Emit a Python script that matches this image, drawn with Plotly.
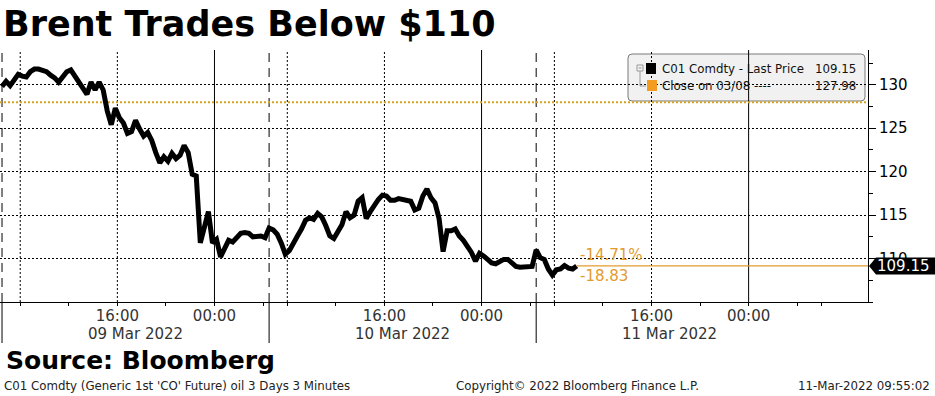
import pandas as pd
import plotly.graph_objects as go

# ---------------- data ----------------
BAR_FREQ = "20min"
session_starts = ["2022-03-09 06:30", "2022-03-10 06:30", "2022-03-11 06:30"]

prices_09_mar = [129.8, 130.4, 129.9, 130.6, 131.2, 131.0, 130.9, 131.5, 131.8, 131.8,
                 131.7, 131.5, 131.1, 130.8, 130.3, 131.0, 131.5, 131.7, 131.0, 130.3,
                 129.4, 128.9, 130.3, 129.4, 130.3, 129.4, 127.0, 125.4, 127.3, 126.2,
                 125.6, 124.4, 124.6, 125.9, 124.9, 124.1, 124.5, 123.6, 122.2, 121.0,
                 121.7, 121.2, 122.1, 121.5, 121.9, 123.0, 122.2, 119.7, 119.5, 111.8,
                 113.6, 115.4, 111.8, 112.2, 110.2, 111.1, 112.1, 111.9, 112.4, 112.9,
                 113.0, 112.9, 112.5, 112.5, 112.6, 112.4]
prices_10_mar = [113.5, 113.3, 112.8, 111.8, 110.5, 110.9, 111.9, 112.6, 113.4, 114.4,
                 114.7, 114.5, 115.2, 114.8, 113.8, 112.6, 112.3, 113.0, 113.9, 115.4,
                 114.7, 115.0, 116.6, 117.0, 114.6, 115.4, 116.2, 116.8, 117.3, 117.2,
                 116.7, 116.7, 116.9, 116.8, 116.8, 116.6, 115.6, 115.8, 117.2, 118.0,
                 117.0, 116.4, 114.6, 110.8, 113.2, 113.2, 113.4, 112.6, 112.1, 111.5,
                 110.7, 109.7, 110.6, 110.3, 109.8, 109.5, 109.4, 109.6, 109.9, 109.9,
                 109.4, 109.1, 109.0, 109.0, 109.0, 109.1]
prices_11_mar = [111.0, 110.1, 109.9, 108.8, 108.1, 108.7, 108.8, 109.2, 108.9, 108.8, 109.15]

close_0308 = 127.98
last_price = prices_11_mar[-1]

session_breaks = ["2022-03-10 04:30", "2022-03-11 04:30", "2022-03-12 04:30"]
x_range = ["2022-03-09 06:20", "2022-03-12 11:50"]

time_tick_vals = ["2022-03-09 16:00", "2022-03-10 00:00", "2022-03-10 16:00",
                  "2022-03-11 00:00", "2022-03-11 16:00", "2022-03-12 00:00"]
time_tick_text = ["16:00", "00:00", "16:00", "00:00", "16:00", "00:00"]
day_labels = ["09 Mar 2022", "10 Mar 2022", "11 Mar 2022"]
day_label_x = ["2022-03-09 17:30", "2022-03-10 17:30", "2022-03-11 17:30"]
dotted_vlines = ["2022-03-09 08:00", "2022-03-09 16:00", "2022-03-10 08:00",
                 "2022-03-10 16:00", "2022-03-11 08:00", "2022-03-11 16:00"]
midnight_vlines = ["2022-03-10 00:00", "2022-03-11 00:00", "2022-03-12 00:00"]

y_tick_vals = [110, 115, 120, 125, 130]
y_range = [105, 134]

# ---------------- build ----------------
all_prices = [prices_09_mar, prices_10_mar, prices_11_mar]
times = []
for start, vals in zip(session_starts, all_prices):
    times += list(pd.date_range(start, periods=len(vals), freq=BAR_FREQ))
prices = prices_09_mar + prices_10_mar + prices_11_mar
last_time = times[-1]

W, H = 935, 396
PL, PR, PT, PB = 0, 868, 50, 302


def fx(px):
    return (px - PL) / (PR - PL)


def fy(py):
    return (PB - py) / (PB - PT)


BASE = "DejaVu Sans"
ORANGE = "#e39b2e"
GOLD = "#d9a21b"

fig = go.Figure()
fig.add_trace(go.Scatter(x=times, y=prices, mode="lines",
                         line=dict(color="black", width=5),
                         hoverinfo="skip", showlegend=False))

shapes = []
# legend box (below everything)
x0, x1, y0, y1, r = 628, 865, 54, 101, 4
path = (f"M {fx(x0 + r)},{fy(y0)} L {fx(x1 - r)},{fy(y0)} Q {fx(x1)},{fy(y0)} {fx(x1)},{fy(y0 + r)} "
        f"L {fx(x1)},{fy(y1 - r)} Q {fx(x1)},{fy(y1)} {fx(x1 - r)},{fy(y1)} "
        f"L {fx(x0 + r)},{fy(y1)} Q {fx(x0)},{fy(y1)} {fx(x0)},{fy(y1 - r)} "
        f"L {fx(x0)},{fy(y0 + r)} Q {fx(x0)},{fy(y0)} {fx(x0 + r)},{fy(y0)} Z")
shapes.append(dict(type="path", xref="paper", yref="paper", path=path,
                   fillcolor="#f1f1f1", line=dict(color="#7a7a7a", width=1), layer="below"))

# vertical lines
for t in dotted_vlines:
    shapes.append(dict(type="line", xref="x", yref="paper", x0=t, x1=t, y0=0, y1=1,
                       line=dict(color="black", width=1, dash="2px,2px"), layer="below"))
for t in midnight_vlines:
    shapes.append(dict(type="line", xref="x", yref="paper", x0=t, x1=t, y0=0, y1=1,
                       line=dict(color="black", width=1), layer="below"))
for t in session_starts:
    shapes.append(dict(type="line", xref="x", yref="paper", x0=t, x1=t, y0=0, y1=1,
                       line=dict(color="black", width=1, dash="9px,6px"), layer="below"))
    shapes.append(dict(type="line", xref="x", yref="paper", x0=t, x1=t, y0=0, y1=fy(343),
                       line=dict(color="black", width=1), layer="above"))

# close on 03/08 dotted line
shapes.append(dict(type="line", xref="paper", yref="y", x0=0, x1=1, y0=close_0308, y1=close_0308,
                   line=dict(color=GOLD, width=2, dash="2px,2px"), layer="below"))
# last price line
shapes.append(dict(type="line", xref="x", yref="y", x0=last_time, x1=x_range[1],
                   y0=last_price, y1=last_price, line=dict(color=ORANGE, width=1.2), layer="above"))

# last price tag arrow
ppu = (PB - PT) / (y_range[1] - y_range[0])
half = 8.5 / ppu
shapes.append(dict(type="path", xref="paper", yref="y", layer="above",
                   path=(f"M {fx(869)},{last_price} L {fx(876)},{last_price + half} "
                         f"L {fx(935)},{last_price + half} L {fx(935)},{last_price - half} "
                         f"L {fx(876)},{last_price - half} Z"),
                   fillcolor="black", line=dict(width=0)))

# legend icons
shapes.append(dict(type="rect", xref="paper", yref="paper", x0=fx(637), x1=fx(643), y0=fy(71), y1=fy(65),
                   line=dict(color="#999", width=1), fillcolor="#f1f1f1", layer="above"))
shapes.append(dict(type="line", xref="paper", yref="paper", x0=fx(638.5), x1=fx(641.5), y0=fy(68), y1=fy(68),
                   line=dict(color="#999", width=1), layer="above"))
shapes.append(dict(type="path", xref="paper", yref="paper", layer="above",
                   path=f"M {fx(640)},{fy(71)} L {fx(640)},{fy(86)} L {fx(646)},{fy(86)}",
                   line=dict(color="#999", width=1)))
shapes.append(dict(type="rect", xref="paper", yref="paper", x0=fx(646), x1=fx(656), y0=fy(74), y1=fy(63),
                   fillcolor="black", line=dict(width=0), layer="above"))
shapes.append(dict(type="rect", xref="paper", yref="paper", x0=fx(647), x1=fx(657), y0=fy(91), y1=fy(80),
                   fillcolor="#f39c1f", line=dict(width=0), layer="above"))

annotations = []
# title
annotations.append(dict(text="<b>Brent Trades Below $110</b>", xref="paper", yref="paper",
                        x=fx(1), y=fy(24), xanchor="left", yanchor="middle", showarrow=False,
                        font=dict(family=BASE, size=35, color="black")))
# day labels
for t, lab in zip(day_label_x, day_labels):
    annotations.append(dict(text=lab, xref="x", yref="paper", x=t, y=fy(334),
                            xanchor="center", yanchor="middle", showarrow=False,
                            font=dict(family=BASE, size=15, color="#333")))
# legend text
leg_font = dict(family=BASE, size=11.8, color="#111")
for txt, py, anchor, px in [("C01 Comdty - Last Price", 69, "left", 660),
                            (f"{last_price:.2f}", 69, "right", 858),
                            ("Close on 03/08 ----", 86, "left", 660),
                            (f"{close_0308:.2f}", 86, "right", 858)]:
    annotations.append(dict(text=txt, xref="paper", yref="paper", x=fx(px), y=fy(py),
                            xanchor=anchor, yanchor="middle", showarrow=False, font=leg_font))
# change annotations
pct = (last_price - close_0308) / close_0308 * 100
diff = last_price - close_0308
annotations.append(dict(text=f"{pct:.2f}%", xref="x", yref="y", x=last_time, y=last_price,
                        xanchor="left", yanchor="bottom", xshift=1, yshift=0, showarrow=False,
                        font=dict(family=BASE, size=15, color=ORANGE)))
annotations.append(dict(text=f"{diff:.2f}", xref="x", yref="y", x=last_time, y=last_price,
                        xanchor="left", yanchor="top", xshift=1, yshift=1, showarrow=False,
                        font=dict(family=BASE, size=15, color=ORANGE)))
# last price tag text
annotations.append(dict(text=f"{last_price:.2f}", xref="paper", yref="y", x=fx(932), y=last_price,
                        xanchor="right", yanchor="middle", showarrow=False,
                        font=dict(family=BASE, size=15, color="white")))
# footer
annotations.append(dict(text="<b>Source: Bloomberg</b>", xref="paper", yref="paper",
                        x=fx(4), y=fy(360), xanchor="left", yanchor="middle", showarrow=False,
                        font=dict(family=BASE, size=25, color="black")))
foot = dict(family=BASE, size=11.8, color="#222")
annotations.append(dict(text="C01 Comdty (Generic 1st 'CO' Future) oil 3 Days 3 Minutes",
                        xref="paper", yref="paper", x=fx(2), y=fy(386), xanchor="left",
                        yanchor="middle", showarrow=False, font=foot))
annotations.append(dict(text="Copyright© 2022 Bloomberg Finance L.P.",
                        xref="paper", yref="paper", x=fx(577), y=fy(386), xanchor="center",
                        yanchor="middle", showarrow=False, font=foot))
annotations.append(dict(text="11-Mar-2022 09:55:02",
                        xref="paper", yref="paper", x=fx(932), y=fy(386), xanchor="right",
                        yanchor="middle", showarrow=False, font=foot))

fig.update_layout(
    width=W, height=H,
    margin=dict(l=PL, r=W - PR, t=PT, b=H - PB, pad=0),
    paper_bgcolor="white", plot_bgcolor="white",
    showlegend=False,
    shapes=shapes, annotations=annotations,
    xaxis=dict(
        type="date", range=x_range,
        rangebreaks=[dict(values=session_breaks, dvalue=2 * 3600 * 1000)],
        tickmode="array", tickvals=time_tick_vals, ticktext=time_tick_text,
        ticks="outside", ticklen=0, tickcolor="black",
        showline=True, linecolor="black", linewidth=1,
        showgrid=False, zeroline=False,
        minor=dict(ticks="outside", ticklen=3, tickcolor="black",
                   dtick=4 * 3600 * 1000, tick0="2022-03-09 00:00", showgrid=False),
        tickfont=dict(family=BASE, size=15, color="#333"),
    ),
    yaxis=dict(
        side="right", range=y_range,
        tickmode="array", tickvals=y_tick_vals,
        ticks="outside", ticklen=7, tickcolor="black",
        showline=True, linecolor="black", linewidth=1,
        showgrid=True, gridcolor="black", gridwidth=1, griddash="2px,2px",
        zeroline=False,
        minor=dict(ticks="outside", ticklen=4, tickcolor="black", dtick=2.5, tick0=0,
                   showgrid=False),
        tickfont=dict(family=BASE, size=15, color="black"),
    ),
)

fig.write_html("out.html")
